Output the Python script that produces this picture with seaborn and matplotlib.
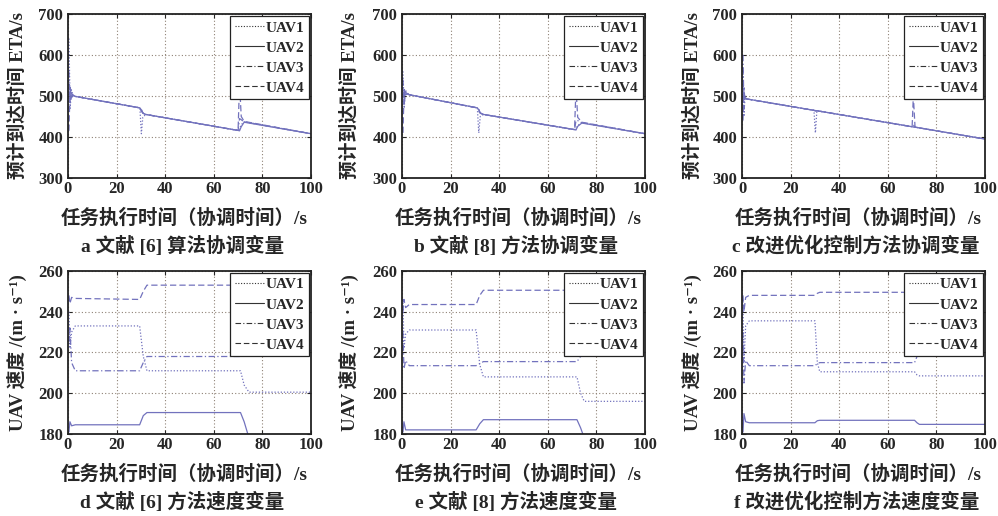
# %%
import pandas as pd
import matplotlib
matplotlib.use("Agg")
import matplotlib.pyplot as plt
from matplotlib.lines import Line2D
import seaborn as sns

# %% data (time breakpoints and values per UAV)
uavs = ["UAV1", "UAV2", "UAV3", "UAV4"]

t_a = [0.4, 0.9, 1.4, 2, 3, 29.6, 30.2, 30.8, 32, 70, 70.6, 71.3, 72.5, 100]
eta_a_uav1 = [640, 470, 515, 503, 499, 471, 408, 448, 455, 416, 420, 430, 437, 408]
eta_a_uav2 = [510, 498, 507, 502, 499, 471, 466, 458, 455, 416, 415, 425, 436, 408]
eta_a_uav3 = [560, 480, 500, 504, 499, 471, 462, 460, 455, 416, 445, 442, 437, 408]
eta_a_uav4 = [415, 525, 495, 501, 499, 471, 468, 458, 455, 416, 530, 450, 438, 408]

t_b = [0.4, 0.9, 1.4, 2, 3, 31, 31.6, 32.2, 33.5, 71, 71.6, 72.3, 74, 100]
eta_b_uav1 = [560, 470, 515, 508, 503, 471, 410, 450, 455, 418, 420, 428, 435, 408]
eta_b_uav2 = [505, 500, 510, 506, 503, 471, 466, 458, 455, 418, 417, 426, 434, 408]
eta_b_uav3 = [540, 480, 505, 507, 503, 471, 462, 459, 455, 418, 440, 440, 435, 408]
eta_b_uav4 = [410, 520, 498, 505, 503, 471, 468, 458, 455, 418, 520, 448, 436, 408]

t_c = [0.4, 0.8, 1.2, 1.7, 29.6, 30.2, 30.8, 70, 70.5, 71.2, 100]
eta_c_uav1 = [570, 450, 500, 493, 465, 410, 464, 425, 424.5, 424, 395]
eta_c_uav2 = [495, 500, 494, 493, 465, 463, 464, 425, 424.5, 424, 395]
eta_c_uav3 = [600, 470, 497, 493, 465, 464.5, 464, 425, 430, 424, 395]
eta_c_uav4 = [440, 520, 490, 493, 465, 464.5, 464, 425, 500, 424, 395]

t_d = [0.4, 0.8, 1.5, 3, 29.5, 31, 32.5, 71, 72.5, 74.5, 100]
v_d_uav1 = [240, 222, 230, 233, 233, 218, 211, 211, 204, 200.5, 200.5]
v_d_uav2 = [181, 186, 184, 184.5, 184.5, 189, 190.5, 190.5, 186, 178, 178]
v_d_uav3 = [225, 232, 215, 211, 211, 215, 218, 218, 220, 221, 221]
v_d_uav4 = [248, 244, 247, 246.5, 246, 250, 253, 253, 253, 253, 253]

t_e = [0.4, 0.8, 1.5, 3, 30.5, 32, 33.5, 72, 73.5, 75, 100]
v_e_uav1 = [246, 222, 229, 231, 231, 214, 208, 208, 200, 196, 196]
v_e_uav2 = [181, 186, 182, 182, 182, 185, 187, 187, 183, 178, 178]
v_e_uav3 = [230, 212, 216, 213.5, 213.5, 214.5, 215.5, 215.5, 218, 220, 220]
v_e_uav4 = [240, 246, 242, 243.5, 243.5, 248, 250.5, 250.5, 250.5, 250.5, 250.5]

t_f = [0.4, 0.8, 1.5, 3, 30, 31, 32, 71, 72, 73, 100]
v_f_uav1 = [245, 215, 233, 235.5, 235.5, 215, 210.5, 210.5, 209, 208.5, 208.5]
v_f_uav2 = [181, 190, 186, 185.5, 185.5, 186.5, 186.7, 186.7, 185.5, 184.7, 184.7]
v_f_uav3 = [230, 205, 216, 213.5, 213.5, 214.5, 215, 215, 218, 221, 221]
v_f_uav4 = [248, 240, 247, 248, 248, 249, 249.5, 249.5, 249.5, 249.5, 249.5]

captions = ["a 文献 [6] 算法协调变量", "b 文献 [8] 方法协调变量", "c 改进优化控制方法协调变量",
            "d 文献 [6] 方法速度变量", "e 文献 [8] 方法速度变量", "f 改进优化控制方法速度变量"]
xlabel = "任务执行时间（协调时间）/s"
ylabel_eta = "预计到达时间 ETA/s"
ylabel_v = "UAV 速度 /(m · s⁻¹)"

# %%
def long_df(t, series):
    rows = []
    for name, vals in zip(uavs, series):
        rows.append(pd.DataFrame({"t": t, "v": vals, "UAV": name}))
    return pd.concat(rows, ignore_index=True)

panels = [
    (long_df(t_a, [eta_a_uav1, eta_a_uav2, eta_a_uav3, eta_a_uav4]), "eta"),
    (long_df(t_b, [eta_b_uav1, eta_b_uav2, eta_b_uav3, eta_b_uav4]), "eta"),
    (long_df(t_c, [eta_c_uav1, eta_c_uav2, eta_c_uav3, eta_c_uav4]), "eta"),
    (long_df(t_d, [v_d_uav1, v_d_uav2, v_d_uav3, v_d_uav4]), "v"),
    (long_df(t_e, [v_e_uav1, v_e_uav2, v_e_uav3, v_e_uav4]), "v"),
    (long_df(t_f, [v_f_uav1, v_f_uav2, v_f_uav3, v_f_uav4]), "v"),
]

sns.set_style("ticks")
plt.rcParams["font.family"] = ["Liberation Serif", "Noto Sans CJK SC", "DejaVu Serif"]
plt.rcParams["font.weight"] = "bold"

dash_map = {"UAV1": (1, 1.5), "UAV2": "", "UAV3": (5, 2, 1, 2), "UAV4": (5, 2.5)}
line_col = "#7272bd"
grid_col = "#8f8276"

fig = plt.figure(figsize=(9.98, 5.16), dpi=100)
lefts = [0.0681, 0.4028, 0.7435]
ylab_x = [-0.17, -0.177, -0.165]

for i, (df, kind) in enumerate(panels):
    row, col = divmod(i, 3)
    bottom = 0.655 if row == 0 else 0.159
    height = 0.318 if row == 0 else 0.316
    ax = fig.add_axes([lefts[col], bottom, 0.2435, height])

    sns.lineplot(data=df, x="t", y="v", hue="UAV", style="UAV",
                 palette=[line_col] * 4, dashes=dash_map, estimator=None,
                 linewidth=0.9, legend=False, ax=ax)

    ax.set_xlim(0, 100)
    ax.set_xticks(range(0, 101, 20))
    if kind == "eta":
        ax.set_ylim(300, 700)
        ax.set_yticks(range(300, 701, 100))
        ylab = ylabel_eta
    else:
        ax.set_ylim(180, 260)
        ax.set_yticks(range(180, 261, 20))
        ylab = ylabel_v

    ax.grid(True, color=grid_col, linestyle=(0, (1, 2)), linewidth=0.8)
    for s in ax.spines.values():
        s.set_linewidth(1.3)
        s.set_color("#222222")
    ax.tick_params(direction="in", length=3, top=True, right=True,
                   labelsize=12)
    ax.tick_params(axis="y", pad=3.5)
    ax.tick_params(axis="x", pad=2.5)
    for lab in ax.get_xticklabels() + ax.get_yticklabels():
        lab.set_fontweight("bold")

    ax.set_xlabel("")
    ax.set_ylabel(ylab, fontsize=13.5, fontweight="bold")
    ax.yaxis.set_label_coords(ylab_x[col], 0.5)

    ax.text(0.48, -0.245, xlabel, transform=ax.transAxes, ha="center",
            va="center", fontsize=14, fontweight="bold")
    ax.text(0.47, -0.415, captions[i], transform=ax.transAxes, ha="center",
            va="center", fontsize=14, fontweight="bold")

    handles = [Line2D([0], [0], color="#333333", linewidth=0.8,
                      dashes=dash_map[u] if dash_map[u] else (None, None))
               for u in uavs]
    leg = ax.legend(handles, uavs, loc="upper right", borderaxespad=0.15,
                    fancybox=False, framealpha=1, edgecolor="#222222",
                    handlelength=1.9, handletextpad=0.1, labelspacing=0.42,
                    borderpad=0.3, prop={"family": "Liberation Serif",
                                          "weight": "bold", "size": 11})
    leg.get_frame().set_linewidth(0.9)

plt.savefig("out.png", dpi=100, facecolor="white")
